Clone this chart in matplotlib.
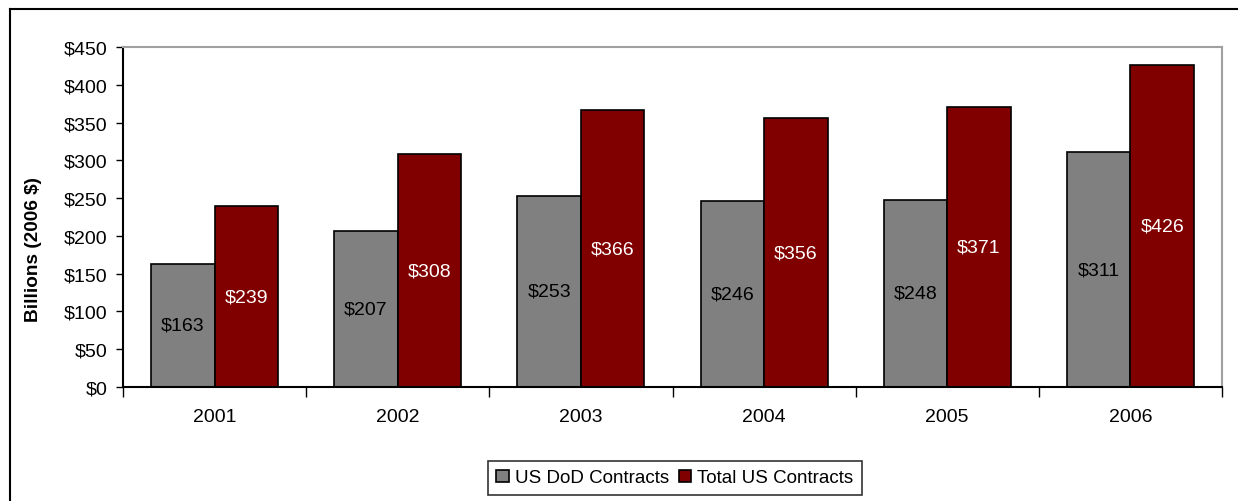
import matplotlib.pyplot as plt
import numpy as np
from matplotlib.lines import Line2D

plt.rcParams["font.family"] = ["Liberation Sans", "DejaVu Sans"]

years = ["2001", "2002", "2003", "2004", "2005", "2006"]
dod_contracts = [163, 207, 253, 246, 248, 311]
total_contracts = [239, 308, 366, 356, 371, 426]
y_ticks = [0, 50, 100, 150, 200, 250, 300, 350, 400, 450]

W, H = 1238, 502
fig = plt.figure(figsize=(W / 100, H / 100), dpi=100)
ax = fig.add_axes([123 / W, 1 - 388 / H, (1222 - 123) / W, (388 - 48) / H])

x = np.arange(len(years))
width = 0.347
gray_bars = ax.bar(x - width / 2, dod_contracts, width, color="#808080",
                   edgecolor="black", linewidth=1.2, label="US DoD Contracts")
red_bars = ax.bar(x + width / 2, total_contracts, width, color="#800000",
                  edgecolor="black", linewidth=1.2, label="Total US Contracts")

ax.bar_label(gray_bars, labels=[f"${v}" for v in dod_contracts],
             label_type="center", color="black", fontsize=14)
ax.bar_label(red_bars, labels=[f"${v}" for v in total_contracts],
             label_type="center", color="white", fontsize=14)

ax.set_xlim(-0.5, len(years) - 0.5)
ax.set_ylim(0, 450)
ax.set_yticks(y_ticks)
ax.set_yticklabels([f"${v}" for v in y_ticks], fontsize=14)
ax.tick_params(axis="y", direction="out", length=5, width=1, pad=6)

ax.set_xticks(x)
ax.set_xticklabels(years, fontsize=14)
ax.set_xticks(np.arange(-0.5, len(years)), minor=True)
ax.tick_params(axis="x", which="major", length=0, pad=15)
ax.tick_params(axis="x", which="minor", direction="out", length=7, width=1)

ax.spines["left"].set_color("black")
ax.spines["bottom"].set_color("black")
ax.spines["top"].set_color("#a0a0a0")
ax.spines["right"].set_color("#a0a0a0")
for s in ax.spines.values():
    s.set_linewidth(1.5)

fig.text(33 / W, 1 - 250 / H, "Billions (2006 $)", rotation=90,
         ha="center", va="center", fontsize=13.7, fontweight="bold")

leg = ax.legend(loc="center", bbox_to_anchor=(675 / W, 1 - 479 / H),
                bbox_transform=fig.transFigure, ncol=2, fontsize=13.5,
                frameon=True, fancybox=False, edgecolor="black",
                handlelength=0.65, handleheight=0.65, handletextpad=0.35,
                columnspacing=0.5, borderpad=0.45)
leg.get_frame().set_linewidth(1.2)

# outer chart frame
fig.add_artist(Line2D([10 / W, 10 / W], [0, 1 - 10 / H], color="black", lw=1.5))
fig.add_artist(Line2D([10 / W, 1], [1 - 10 / H, 1 - 10 / H], color="black", lw=1.5))

fig.savefig("out.png", dpi=100)
